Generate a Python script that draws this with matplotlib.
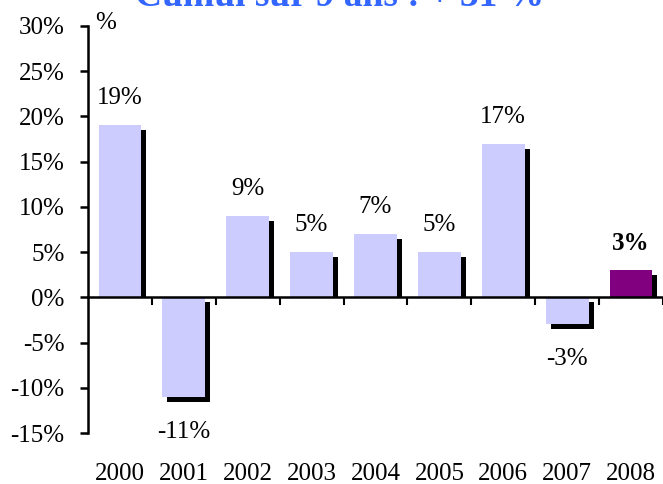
import matplotlib.pyplot as plt
from matplotlib.transforms import ScaledTranslation, blended_transform_factory

plt.rcParams["font.family"] = ["Liberation Serif", "DejaVu Serif"]

years = ["2000", "2001", "2002", "2003", "2004", "2005", "2006", "2007", "2008"]
returns = [19, -11, 9, 5, 7, 5, 17, -3, 3]
ytick_vals = [-15, -10, -5, 0, 5, 10, 15, 20, 25, 30]
title = "Cumul sur 9 ans : + 31 %"

W, H = 663, 484
fig = plt.figure(figsize=(W / 100, H / 100), dpi=100)
ax = fig.add_axes([88 / W, (H - 433) / H, (663 - 88) / W, 407 / H])

ax.set_xlim(-0.5, len(years) - 0.5)
ax.set_ylim(-15, 30)

width = 0.67
dx = 0.078   # shadow offset, x (category units)
dy = 0.55    # shadow offset, y (percent)
light = "#ccccff"
last = "#800080"

# black drop shadows behind the bars
for i, v in enumerate(returns):
    if v >= 0:
        ax.bar(i + dx, v - dy, width=width, color="black", zorder=1)
    else:
        ax.bar(i + dx, v, bottom=-dy, width=width, color="black", zorder=1)

colors = [light] * (len(returns) - 1) + [last]
ax.bar(range(len(returns)), returns, width=width, color=colors, zorder=2)

for i, v in enumerate(returns):
    off = 27 if v >= 0 else -35
    weight = "bold" if i == len(returns) - 1 else "normal"
    ax.annotate(f"{v}%", (i, v), xytext=(0, off * 0.72), textcoords="offset points",
                ha="center", va="center", fontsize=18, fontweight=weight)

# axes styling
for s in ["top", "right"]:
    ax.spines[s].set_visible(False)
ax.spines["bottom"].set_position(("data", 0))
ax.spines["left"].set_linewidth(1.8)
ax.spines["bottom"].set_linewidth(1.8)

ax.set_yticks(ytick_vals)
ax.set_yticklabels([f"{t}%" for t in ytick_vals], fontsize=18)
ax.tick_params(axis="y", direction="out", length=6, width=1.8, pad=11)

ax.set_xticks([i + 0.5 for i in range(len(years))])
ax.set_xticklabels([])
ax.tick_params(axis="x", direction="out", length=6, width=1.5)

# year labels sit at the bottom of the figure, not on the zero line
trans = blended_transform_factory(ax.transData, ax.transAxes)
for i, y in enumerate(years):
    ax.text(i, 0, y, transform=trans + ScaledTranslation(0, -41 / 100, fig.dpi_scale_trans),
            ha="center", va="center", fontsize=18)

ax.annotate("%", (0, 1), xycoords="axes fraction", xytext=(5, 2),
            textcoords="offset points", ha="left", va="center", fontsize=18)

fig.text(340 / W, 1 - 6 / H, title, ha="center", va="baseline",
         fontsize=27, fontweight="bold", color="#3366ff")

fig.savefig("out.png", dpi=100)
